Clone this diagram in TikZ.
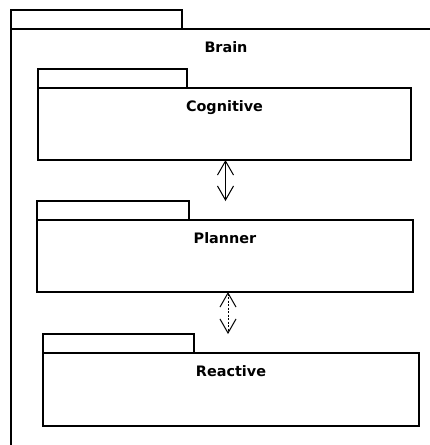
\documentclass[tikz,border=0pt]{standalone}
\usepackage{fontspec}
\newfontfamily\pkgfont{DejaVu Sans}
\usetikzlibrary{arrows.meta,positioning}
\tikzset{
  >={Straight Barb[length=14pt,width=16pt]},
  pkg/.style={draw,line width=2.2pt,inner sep=0pt,outer sep=0pt,anchor=north west},
  pkgtab/.style={draw,line width=2.2pt,inner sep=0pt,outer sep=0pt,anchor=south west,minimum height=19pt},
  pkgname/.style={font=\pkgfont\bfseries\fontsize{14.4}{16}\selectfont,anchor=base,inner sep=0pt},
  dep/.style={<->,line width=1pt},
}
\begin{document}
\begin{tikzpicture}[x=1pt,y=-1pt]
  \useasboundingbox (0,0) rectangle (430,445);
  % outer package, cut by the border
  \node[pkgtab,minimum width=171pt] (braintab) at (11,29) {};
  \draw[line width=2.2pt] (430,29) -- (11,29) -- (11,445);
  \node[pkgname] (brain) at (226,52) {Brain};
  % inner packages
  \foreach \n/\t/\x/\y/\w/\h/\tw in {cog/Cognitive/38/88/373/72/149,
      plan/Planner/37/220/376/72/152,rea/Reactive/43/353/376/73/151}{
    \node[pkg,minimum width=\w pt,minimum height=\h pt] (\n) at (\x,\y) {};
    \node[pkgtab,minimum width=\tw pt] (\n tab) at (\n.north west) {};
    \node[pkgname,yshift=-23pt] (\n name) at (\n.north) {\t};
  }
  \draw[dep] ([xshift=1pt]cog.south) -- ([xshift=1pt]cog.south |- plantab.north);
  \draw[dep,dash pattern=on 2pt off 1.5pt] ([xshift=3pt]plan.south) -- ([xshift=3pt]plan.south |- reatab.north);
\end{tikzpicture}
\end{document}
